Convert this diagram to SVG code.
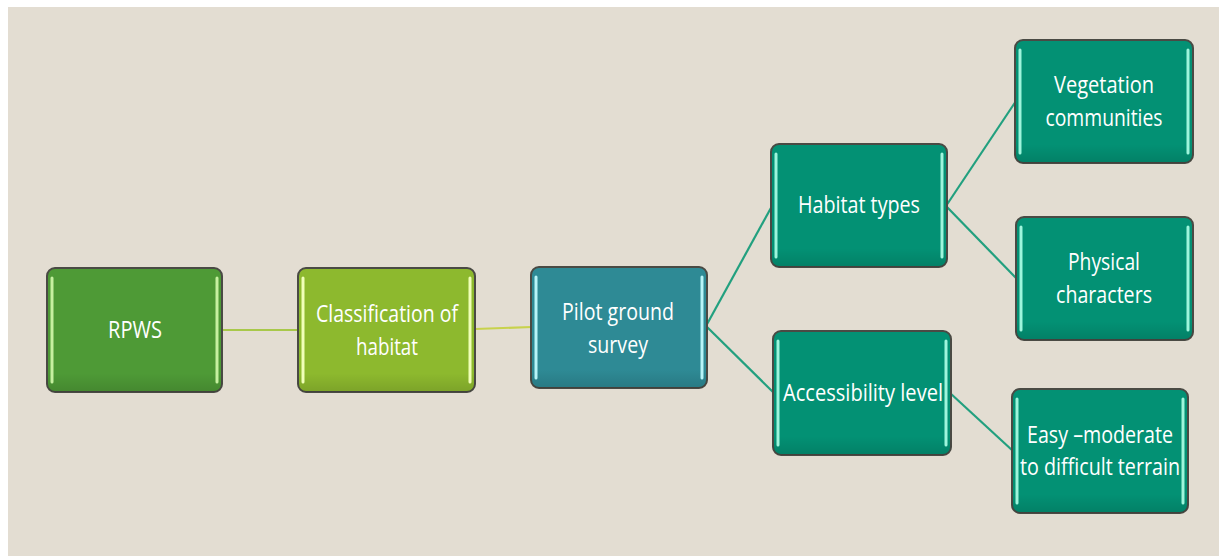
<svg xmlns="http://www.w3.org/2000/svg" width="1219" height="556" viewBox="0 0 1219 556">
<style>
.box{stroke:#4a4a44;stroke-width:2}
.hl{stroke-width:3;stroke-linecap:round;fill:none}
.t{font-family:"Open Sans","Noto Sans",sans-serif;font-size:23px;fill:#ffffff;text-anchor:middle}
.c{fill:none;stroke-width:2.2}
</style>
<defs>
<linearGradient id="shade" x1="0" y1="0" x2="0" y2="1">
<stop offset="0.85" stop-color="#000" stop-opacity="0"/>
<stop offset="1" stop-color="#000" stop-opacity="0.12"/>
</linearGradient>
</defs>
<rect width="1219" height="556" fill="#ffffff"/>
<rect x="8" y="7" width="1211" height="549" fill="#e3ddd2"/>
<g id="connectors">
<line class="c" x1="222" y1="330" x2="299" y2="330" stroke="#a8c84a"/>
<line class="c" x1="475" y1="329" x2="532" y2="327" stroke="#c8d24c"/>
<line class="c" x1="706" y1="326" x2="772" y2="206" stroke="#22a07f"/>
<line class="c" x1="706" y1="326" x2="774" y2="393" stroke="#22a07f"/>
<line class="c" x1="946" y1="206" x2="1016" y2="101" stroke="#22a07f"/>
<line class="c" x1="946" y1="206" x2="1016" y2="278" stroke="#22a07f"/>
<line class="c" x1="950" y1="393" x2="1013" y2="451" stroke="#22a07f"/>
</g>
<g id="rpws">
<rect class="box" x="47" y="268" width="175" height="124" rx="8" fill="#4e9a36"/>
<rect x="47" y="268" width="175" height="124" rx="8" fill="url(#shade)"/>
<line class="hl" x1="52" y1="278" x2="52" y2="382" stroke="#c6f0a0"/>
<line class="hl" x1="217" y1="278" x2="217" y2="382" stroke="#c6f0a0"/>
<text class="t" x="135" y="338" textLength="54" lengthAdjust="spacingAndGlyphs">RPWS</text>
</g>
<g id="classification">
<rect class="box" x="298" y="268" width="177" height="124" rx="8" fill="#8db92e"/>
<rect x="298" y="268" width="177" height="124" rx="8" fill="url(#shade)"/>
<line class="hl" x1="303" y1="278" x2="303" y2="382" stroke="#f0ffb8"/>
<line class="hl" x1="470" y1="278" x2="470" y2="382" stroke="#f0ffb8"/>
<text class="t" x="387" y="322" textLength="142" lengthAdjust="spacingAndGlyphs">Classification of</text>
<text class="t" x="387" y="355" textLength="62" lengthAdjust="spacingAndGlyphs">habitat</text>
</g>
<g id="pilot">
<rect class="box" x="531" y="267" width="176" height="121" rx="8" fill="#2e8a95"/>
<rect x="531" y="267" width="176" height="121" rx="8" fill="url(#shade)"/>
<line class="hl" x1="536" y1="277" x2="536" y2="378" stroke="#b8f4f8"/>
<line class="hl" x1="702" y1="277" x2="702" y2="378" stroke="#b8f4f8"/>
<text class="t" x="618" y="320" textLength="112" lengthAdjust="spacingAndGlyphs">Pilot ground</text>
<text class="t" x="618" y="353" textLength="60" lengthAdjust="spacingAndGlyphs">survey</text>
</g>
<g id="habitat">
<rect class="box" x="771" y="144" width="176" height="123" rx="8" fill="#039174"/>
<rect x="771" y="144" width="176" height="123" rx="8" fill="url(#shade)"/>
<line class="hl" x1="776" y1="154" x2="776" y2="257" stroke="#9ef5dc"/>
<line class="hl" x1="942" y1="154" x2="942" y2="257" stroke="#9ef5dc"/>
<text class="t" x="859" y="213" textLength="122" lengthAdjust="spacingAndGlyphs">Habitat types</text>
</g>
<g id="vegetation">
<rect class="box" x="1015" y="40" width="178" height="123" rx="8" fill="#039174"/>
<rect x="1015" y="40" width="178" height="123" rx="8" fill="url(#shade)"/>
<line class="hl" x1="1020" y1="50" x2="1020" y2="153" stroke="#9ef5dc"/>
<line class="hl" x1="1188" y1="50" x2="1188" y2="153" stroke="#9ef5dc"/>
<text class="t" x="1104" y="93" textLength="100" lengthAdjust="spacingAndGlyphs">Vegetation</text>
<text class="t" x="1104" y="126" textLength="117" lengthAdjust="spacingAndGlyphs">communities</text>
</g>
<g id="physical">
<rect class="box" x="1016" y="217" width="177" height="123" rx="8" fill="#039174"/>
<rect x="1016" y="217" width="177" height="123" rx="8" fill="url(#shade)"/>
<line class="hl" x1="1021" y1="227" x2="1021" y2="330" stroke="#9ef5dc"/>
<line class="hl" x1="1188" y1="227" x2="1188" y2="330" stroke="#9ef5dc"/>
<text class="t" x="1104" y="270" textLength="72" lengthAdjust="spacingAndGlyphs">Physical</text>
<text class="t" x="1104" y="303" textLength="96" lengthAdjust="spacingAndGlyphs">characters</text>
</g>
<g id="accessibility">
<rect class="box" x="773" y="331" width="178" height="124" rx="8" fill="#039174"/>
<rect x="773" y="331" width="178" height="124" rx="8" fill="url(#shade)"/>
<line class="hl" x1="778" y1="341" x2="778" y2="445" stroke="#9ef5dc"/>
<line class="hl" x1="946" y1="341" x2="946" y2="445" stroke="#9ef5dc"/>
<text class="t" x="863" y="401" textLength="160" lengthAdjust="spacingAndGlyphs">Accessibility level</text>
</g>
<g id="easy">
<rect class="box" x="1012" y="389" width="176" height="124" rx="8" fill="#039174"/>
<rect x="1012" y="389" width="176" height="124" rx="8" fill="url(#shade)"/>
<line class="hl" x1="1017" y1="399" x2="1017" y2="503" stroke="#9ef5dc"/>
<line class="hl" x1="1183" y1="399" x2="1183" y2="503" stroke="#9ef5dc"/>
<text class="t" x="1100" y="443" textLength="146" lengthAdjust="spacingAndGlyphs">Easy –moderate</text>
<text class="t" x="1100" y="475" textLength="160" lengthAdjust="spacingAndGlyphs">to difficult terrain</text>
</g>
</svg>
